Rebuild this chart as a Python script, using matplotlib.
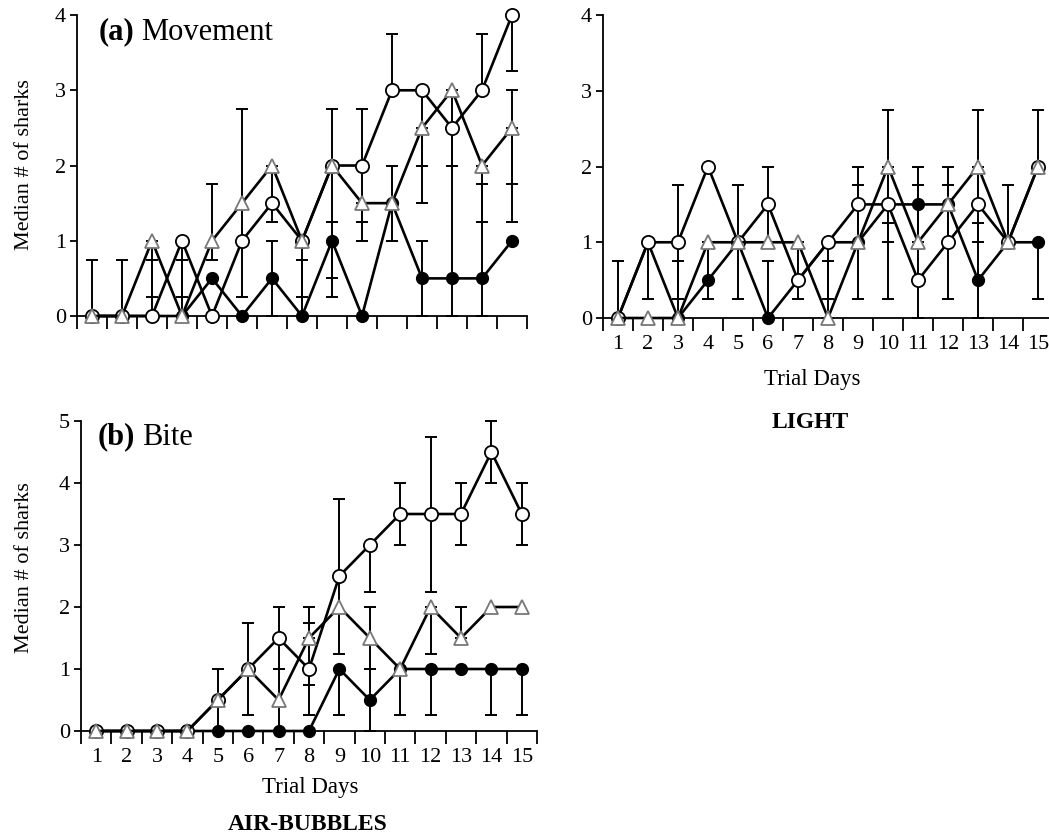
import numpy as np
import matplotlib
matplotlib.use("Agg")
import matplotlib.pyplot as plt

plt.rcParams['font.family'] = ['Liberation Serif', 'DejaVu Serif']

days = np.arange(1, 16)

# (a) Movement, air-bubbles
mov_open = [0, 0, 0, 1, 0, 1, 1.5, 1, 2, 2, 3, 3, 2.5, 3, 4]
mov_tri = [0, 0, 1, 0, 1, 1.5, 2, 1, 2, 1.5, 1.5, 2.5, 3, 2, 2.5]
mov_fill = [0, 0, 0, 0, 0.5, 0, 0.5, 0, 1, 0, 1.5, 0.5, 0.5, 0.5, 1]
mov_err_day = [1, 2, 3, 3, 4, 4, 5, 6, 7, 7, 8, 8, 9, 9, 9, 10, 10, 11, 11,
               12, 12, 12, 13, 13, 14, 14, 14, 15, 15, 15]
mov_err_lo = [0, 0, 0.25, 0, 0.25, 0, 0.75, 0.25, 1.25, 0, 0.25, 0, 1.25, 0.25, 0.5,
              1.25, 1, 3, 1, 2, 1.5, 0, 2, 0, 3, 1.25, 0, 3.25, 1.25, 1.75]
mov_err_hi = [0.75, 0.75, 1, 0.75, 1, 0.75, 1.75, 2.75, 2, 1, 1, 0.75, 2.75, 1.25, 1,
              2.75, 1.5, 3.75, 2, 3, 2.5, 1, 3, 2.5, 3.75, 2, 1.75, 4, 3, 2.5]

# Light
lig_open = [0, 1, 1, 2, 1, 1.5, 0.5, 1, 1.5, 1.5, 0.5, 1, 1.5, 1, 2]
lig_tri = [0, 0, 0, 1, 1, 1, 1, 0, 1, 2, 1, 1.5, 2, 1, 2]
lig_fill = [0, 1, 0, 0.5, 1, 0, 0.5, 1, 1, 1.5, 1.5, 1.5, 0.5, 1, 1]
lig_err_day = [1, 2, 3, 3, 4, 5, 6, 6, 7, 8, 8, 9, 9, 10, 10, 10, 11, 11,
               12, 12, 13, 13, 13, 14, 15, 15]
lig_err_lo = [0, 0.25, 0.25, 0, 0.25, 0.25, 1, 0, 0.25, 0.25, 0, 1, 0.25, 1.5, 0.25, 1,
              1, 0, 1, 0.25, 1.5, 1, 0, 1, 2, 0.25]
lig_err_hi = [0.75, 1, 1.75, 0.75, 1, 1.75, 2, 0.75, 1, 1, 0.75, 2, 1.75, 2.75, 1.25, 2,
              2, 1.75, 2, 1.75, 2.75, 2, 1.25, 1.75, 2.75, 1]

# (b) Bite, air-bubbles
bite_open = [0, 0, 0, 0, 0.5, 1, 1.5, 1, 2.5, 3, 3.5, 3.5, 3.5, 4.5, 3.5]
bite_tri = [0, 0, 0, 0, 0.5, 1, 0.5, 1.5, 2, 1.5, 1, 2, 1.5, 2, 2]
bite_fill = [0, 0, 0, 0, 0, 0, 0, 0, 1, 0.5, 1, 1, 1, 1, 1]
bite_err_day = [5, 6, 7, 7, 8, 8, 8, 9, 9, 10, 10, 10, 11, 11, 12, 12, 12,
                13, 13, 14, 14, 15, 15]
bite_err_lo = [0, 0.25, 1, 0, 1.5, 0.75, 0.25, 1.25, 0.25, 2.25, 1, 0, 3, 0.25,
               2.25, 1.25, 0.25, 3, 1.5, 4, 0.25, 3, 0.25]
bite_err_hi = [1, 1.75, 2, 1, 2, 1.75, 1, 3.75, 1, 3, 2, 1, 4, 1, 4.75, 2, 1,
               4, 2, 5, 1, 4, 1]


def draw_panel(ax, s_open, s_tri, s_fill, e_day, e_lo, e_hi, ymax, xlabels):
    e_lo = np.array(e_lo, dtype=float)
    e_hi = np.array(e_hi, dtype=float)
    ax.errorbar(e_day, (e_lo + e_hi) / 2, yerr=(e_hi - e_lo) / 2, fmt='none',
                ecolor='black', elinewidth=1.4, capsize=4.5, capthick=1.4,
                zorder=2, clip_on=False)
    ax.plot(days, s_fill, '-o', color='black', lw=1.9, ms=8.5,
            mfc='black', mec='black', zorder=3, clip_on=False)
    ax.plot(days, s_open, '-o', color='black', lw=1.9, ms=9.5,
            mfc='white', mec='black', mew=1.3, zorder=4, clip_on=False)
    ax.plot(days, s_tri, '-^', color='black', lw=1.9, ms=10,
            mfc='white', mec='#777777', mew=1.3, zorder=5, clip_on=False)

    ax.set_xlim(0.5, 15.5)
    ax.set_ylim(0, ymax)
    ax.spines['top'].set_visible(False)
    ax.spines['right'].set_visible(False)
    for sp in ('left', 'bottom'):
        ax.spines[sp].set_linewidth(1.3)

    ax.set_yticks(range(0, ymax + 1))
    ax.tick_params(axis='y', direction='out', length=5, width=1.3,
                   labelsize=16, pad=3)
    ax.set_xticks(days)
    ax.set_xticks(np.arange(0.5, 16, 1), minor=True)
    ax.tick_params(axis='x', which='major', length=0, labelsize=16, pad=12)
    ax.tick_params(axis='x', which='minor', direction='out', length=9, width=1.3)
    if not xlabels:
        ax.set_xticklabels([])


fig = plt.figure(figsize=(10.49, 8.36), dpi=100)

ax1 = fig.add_axes([0.0734, 0.622, 0.429, 0.360])
ax2 = fig.add_axes([0.5748, 0.6196, 0.4262, 0.3624])
ax3 = fig.add_axes([0.0772, 0.1256, 0.4347, 0.3708])

draw_panel(ax1, mov_open, mov_tri, mov_fill, mov_err_day, mov_err_lo, mov_err_hi, 4, False)
draw_panel(ax2, lig_open, lig_tri, lig_fill, lig_err_day, lig_err_lo, lig_err_hi, 4, True)
draw_panel(ax3, bite_open, bite_tri, bite_fill, bite_err_day, bite_err_lo, bite_err_hi, 5, True)
ax2.set_xlim(0.5, 15.4)

# panel titles
t = ax1.text(0.047, 0.943, "(a)", transform=ax1.transAxes, fontsize=22,
             fontweight='bold', va='center', ha='left')
ax1.annotate("Movement", xy=(1, 0.5), xycoords=t, xytext=(5, 0),
             textcoords='offset points', fontsize=22, va='center', ha='left')
t = ax3.text(0.037, 0.948, "(b)", transform=ax3.transAxes, fontsize=22,
             fontweight='bold', va='center', ha='left')
ax3.annotate("Bite", xy=(1, 0.5), xycoords=t, xytext=(5, 0),
             textcoords='offset points', fontsize=22, va='center', ha='left')

fig.text(25 / 1049, 1 - 165 / 836, "Median # of sharks", rotation=90,
         ha='center', va='center', fontsize=16)
fig.text(25 / 1049, 1 - 568 / 836, "Median # of sharks", rotation=90,
         ha='center', va='center', fontsize=16)

fig.text(812 / 1049, 1 - 379 / 836, "Trial Days", ha='center', va='center', fontsize=16.5)
fig.text(810 / 1049, 1 - 422 / 836, "LIGHT", ha='center', va='center',
         fontsize=17, fontweight='bold')
fig.text(310 / 1049, 1 - 787 / 836, "Trial Days", ha='center', va='center', fontsize=16.5)
fig.text(308 / 1049, 1 - 825 / 836, "AIR-BUBBLES", ha='center', va='center',
         fontsize=17, fontweight='bold')

fig.savefig("out.png", dpi=100)
